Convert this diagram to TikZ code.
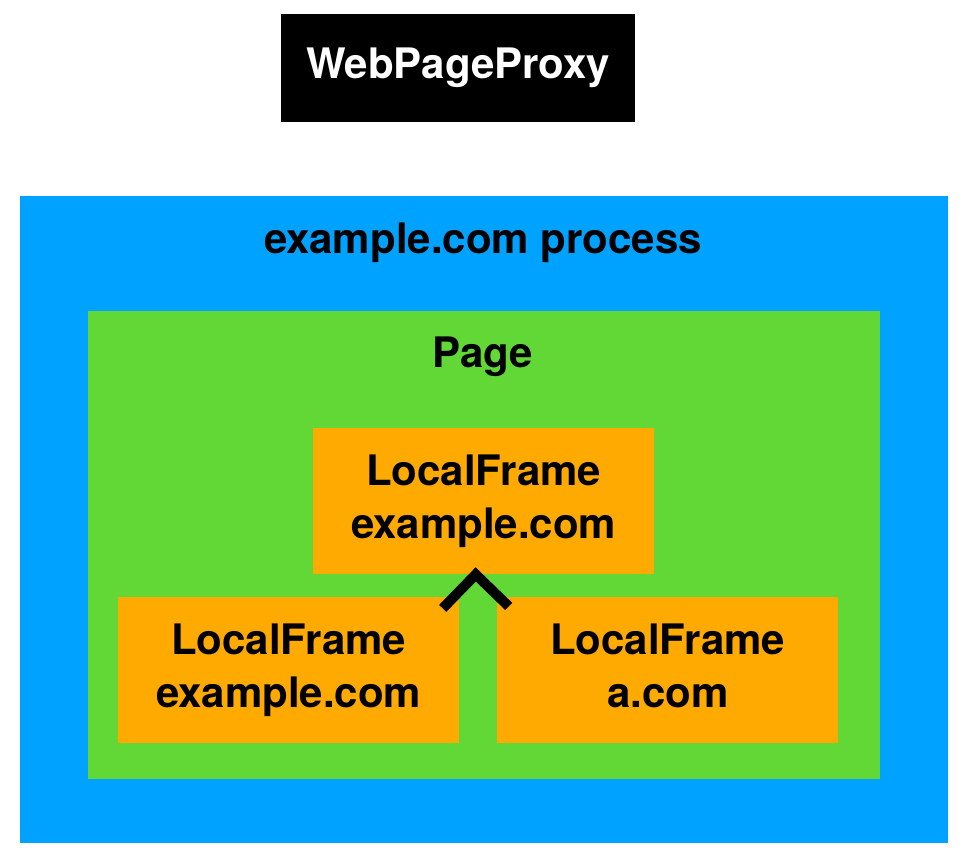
\documentclass[tikz,border=0pt]{standalone}
\usepackage{fontspec}
\setmainfont{TeX Gyre Heros}
\usetikzlibrary{calc}
\definecolor{procblue}{RGB}{0,162,255}
\definecolor{pagegreen}{RGB}{97,216,54}
\definecolor{frameorange}{RGB}{255,170,0}
\tikzset{
	box/.style={anchor=north west,inner sep=0pt,align=center,
		font=\fontsize{42}{53}\selectfont\bfseries},
	framebox/.style={box,fill=frameorange,minimum width=341pt,minimum height=146pt},
	label/.style={inner sep=0pt,font=\fontsize{42}{53}\selectfont\bfseries},
	chevron/.style={line width=10pt,line cap=butt,line join=miter}
}
\begin{document}
\begin{tikzpicture}[x=1pt,y=-1pt]
		\useasboundingbox (0,0) rectangle (962,856);
		
		\node[box,fill=black,text=white,minimum width=354pt,minimum height=108pt] (proxy) at (281,14) {WebPageProxy};
		
		\node[box,fill=procblue,minimum width=928pt,minimum height=647pt] (process) at (20,196) {};
		\node[label] (processlabel) at (483,243) {example.com process};
		
		\node[box,fill=pagegreen,minimum width=792pt,minimum height=468pt] (page) at (88,311) {};
		\node[label] (pagelabel) at (483,357) {Page};
		
		\node[framebox] (top) at (313,428) {LocalFrame\\example.com};
		\node[framebox] (left) at (118,597) {LocalFrame\\example.com};
		\node[framebox] (right) at (497,597) {LocalFrame\\a.com\vphantom{p}};
		
		\coordinate (tip) at ($(top.south)+(-8,0)$);
		\draw[chevron] ($(tip)+(-33,34)$) -- (tip) -- ($(tip)+(33,32)$);
	\end{tikzpicture}
\end{document}
